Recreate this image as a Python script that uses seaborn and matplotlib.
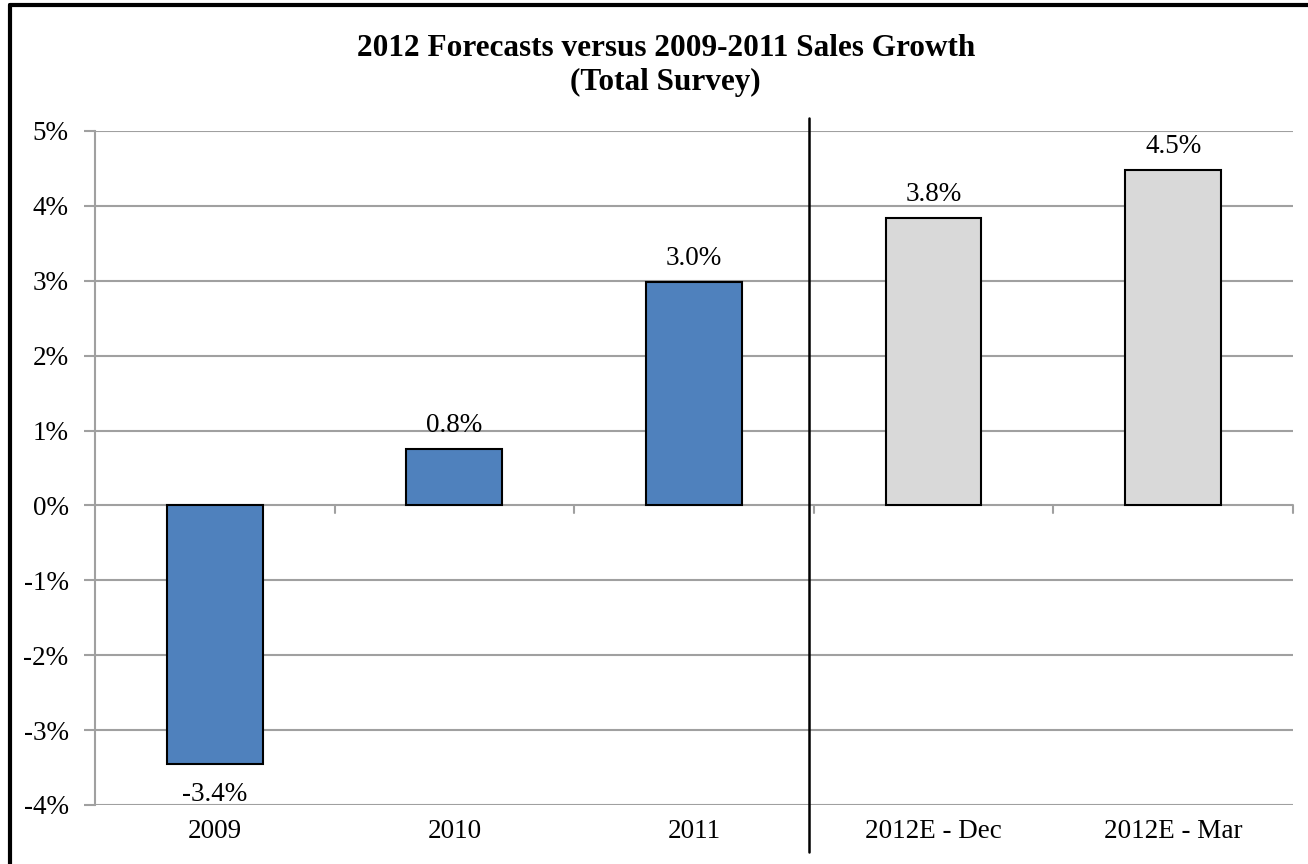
import matplotlib
matplotlib.use("Agg")
import matplotlib.pyplot as plt
import seaborn as sns
import pandas as pd
from matplotlib.lines import Line2D

categories = ["2009", "2010", "2011", "2012E - Dec", "2012E - Mar"]
values = [-3.45, 0.75, 2.98, 3.84, 4.48]
labels = ["-3.4%", "0.8%", "3.0%", "3.8%", "4.5%"]
kind = ["actual", "actual", "actual", "forecast", "forecast"]
yticks = [-4, -3, -2, -1, 0, 1, 2, 3, 4, 5]
title = "2012 Forecasts versus 2009-2011 Sales Growth\n(Total Survey)"

sns.set_style("white")
plt.rcParams["font.family"] = ["Liberation Serif", "DejaVu Serif"]
plt.rcParams["text.color"] = "black"
plt.rcParams["xtick.color"] = "black"
plt.rcParams["ytick.color"] = "black"
plt.rcParams["xtick.labelcolor"] = "black"
plt.rcParams["ytick.labelcolor"] = "black"

df = pd.DataFrame({"cat": categories, "val": values, "kind": kind})

fig = plt.figure(figsize=(13.08, 8.64), dpi=100)
ax = fig.add_axes([0.0726, 0.0683, 0.9159, 0.7801])

grid_c = "#A0A0A0"
for y in yticks:
    ax.axhline(y, color=grid_c, lw=1.5, zorder=0)

sns.barplot(data=df, x="cat", y="val", hue="kind",
            palette={"actual": "#4F81BD", "forecast": "#D9D9D9"},
            saturation=1, width=0.4, edgecolor="black", linewidth=1.5,
            dodge=False, legend=False, ax=ax, zorder=2)

ax.set_ylim(-4, 5)
ax.set_xlim(-0.5, 4.5)
ax.set_yticks(yticks)
ax.set_yticklabels([f"{t}%" for t in yticks], fontsize=19.5)
ax.set_xticks(range(len(categories)))
ax.set_xticklabels(categories, fontsize=19.5)
ax.tick_params(axis="x", length=0, pad=10)
ax.tick_params(axis="y", length=8, color=grid_c, width=1.5, pad=11, left=True)
ax.set_xlabel("")
ax.set_ylabel("")
for s in ["top", "right", "bottom"]:
    ax.spines[s].set_visible(False)
ax.spines["left"].set_color(grid_c)
ax.spines["left"].set_linewidth(1.5)

# small downward ticks on the zero line at category boundaries
for b in [0.5, 1.5, 2.5, 3.5, 4.5]:
    ax.plot([b, b], [0, -0.1], color=grid_c, lw=1.5, zorder=1, clip_on=False)

# value labels
for i, (v, lab) in enumerate(zip(values, labels)):
    if v >= 0:
        ax.annotate(lab, (i, v), xytext=(0, 8), textcoords="offset points",
                    ha="center", va="bottom", fontsize=19.5)
    else:
        ax.annotate(lab, (i, v), xytext=(0, -13), textcoords="offset points",
                    ha="center", va="top", fontsize=19.5)

# separator between actuals and forecasts
ax.axvline(2.48, ymin=-0.07, ymax=1.02, color="black", lw=1.8, clip_on=False, zorder=3)

fig.suptitle(title, fontsize=22.5, fontweight="bold", x=0.509, y=0.961,
             va="top", linespacing=1.25)

# outer frame (top and left edges visible)
fig.add_artist(Line2D([10 / 1308, 10 / 1308], [0, 1 - 5 / 864], transform=fig.transFigure,
                      color="black", lw=3))
fig.add_artist(Line2D([10 / 1308, 1], [1 - 5 / 864, 1 - 5 / 864], transform=fig.transFigure,
                      color="black", lw=3))

fig.savefig("out.png", dpi=100)
